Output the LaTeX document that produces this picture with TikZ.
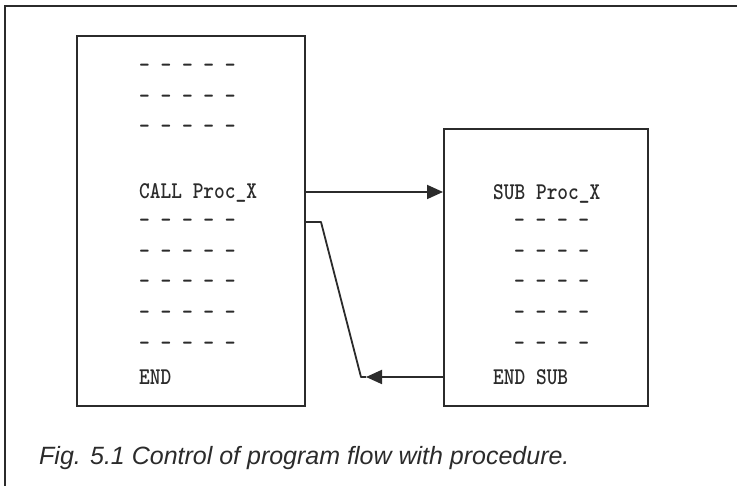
\documentclass[tikz,border=0pt]{standalone}
\usepackage{fontspec}
\usepackage{graphicx}
\usetikzlibrary{arrows.meta}
\newfontfamily\capfont{Liberation Sans}
\definecolor{ink}{HTML}{2B2B2B}
% condensed heavy typewriter text for the program listings
\newcommand{\codetext}[1]{\scalebox{0.85}[1]{\fontsize{24}{28}\ttfamily\bfseries #1}}
\tikzset{
  listing/.style={draw=ink, line width=2pt, inner sep=0pt},
  codeline/.style={anchor=base west, inner sep=0pt, text=ink},
  flow/.style={draw=ink, line width=1.8pt},
  flowtip/.style={-{Triangle[length=16pt,width=14pt]}}
}
\begin{document}
\begin{tikzpicture}[x=1pt,y=1pt]
\useasboundingbox (0,0) rectangle (737,486);
\clip (0,0) rectangle (737,486);
\fill[white] (0,0) rectangle (737,486);

% outer frame (continues past the right and bottom edges)
\draw[ink, line width=2pt] (4.5,-10) -- (4.5,480) -- (760,480);

% the two program units
\node[listing, minimum width=228pt, minimum height=370pt] (main) at (191,265) {};
\node[listing, minimum width=204pt, minimum height=277pt] (sub) at (546,218.5) {};

% main program
\node[codeline] (m1) at (139,413.5) {\codetext{- - - - -}};
\node[codeline] (m2) at (139,382.5) {\codetext{- - - - -}};
\node[codeline] (m3) at (139,352.5) {\codetext{- - - - -}};
\node[codeline] (call) at (139,287.5) {\codetext{CALL Proc\_X}};
\node[codeline] (m4) at (139,258) {\codetext{- - - - -}};
\node[codeline] (m5) at (139,227.5) {\codetext{- - - - -}};
\node[codeline] (m6) at (139,197) {\codetext{- - - - -}};
\node[codeline] (m7) at (139,166) {\codetext{- - - - -}};
\node[codeline] (m8) at (139,135.5) {\codetext{- - - - -}};
\node[codeline] (mend) at (139,101.5) {\codetext{END}};

% procedure
\node[codeline] (subhead) at (493,286.5) {\codetext{SUB Proc\_X}};
\node[codeline] (s1) at (514,258) {\codetext{- - - -}};
\node[codeline] (s2) at (514,227.5) {\codetext{- - - -}};
\node[codeline] (s3) at (514,197) {\codetext{- - - -}};
\node[codeline] (s4) at (514,166) {\codetext{- - - -}};
\node[codeline] (s5) at (514,135.5) {\codetext{- - - -}};
\node[codeline] (send) at (493,101.5) {\codetext{END SUB}};

% control transfer
\coordinate (callrow) at (0,294);
\coordinate (retrow) at (0,264);
\coordinate (endrow) at (0,109);
\coordinate (knee) at (321,264);
\coordinate (bend) at (361,109);
\coordinate (rettip) at (366,109);

\draw[flow, flowtip] (main.east |- callrow) -- (sub.west |- callrow);
\draw[flow, flowtip] (sub.west |- endrow) -- (rettip);
\draw[flow, line join=round] (main.east |- retrow) -- (knee) -- (bend) -- (rettip);

% caption
\node[anchor=base west, inner sep=0pt, text=ink, font=\capfont\itshape\fontsize{25}{30}\selectfont]
  (caption) at (39,21) {Fig. 5.1 Control of program flow with procedure.};
\end{tikzpicture}
\end{document}
